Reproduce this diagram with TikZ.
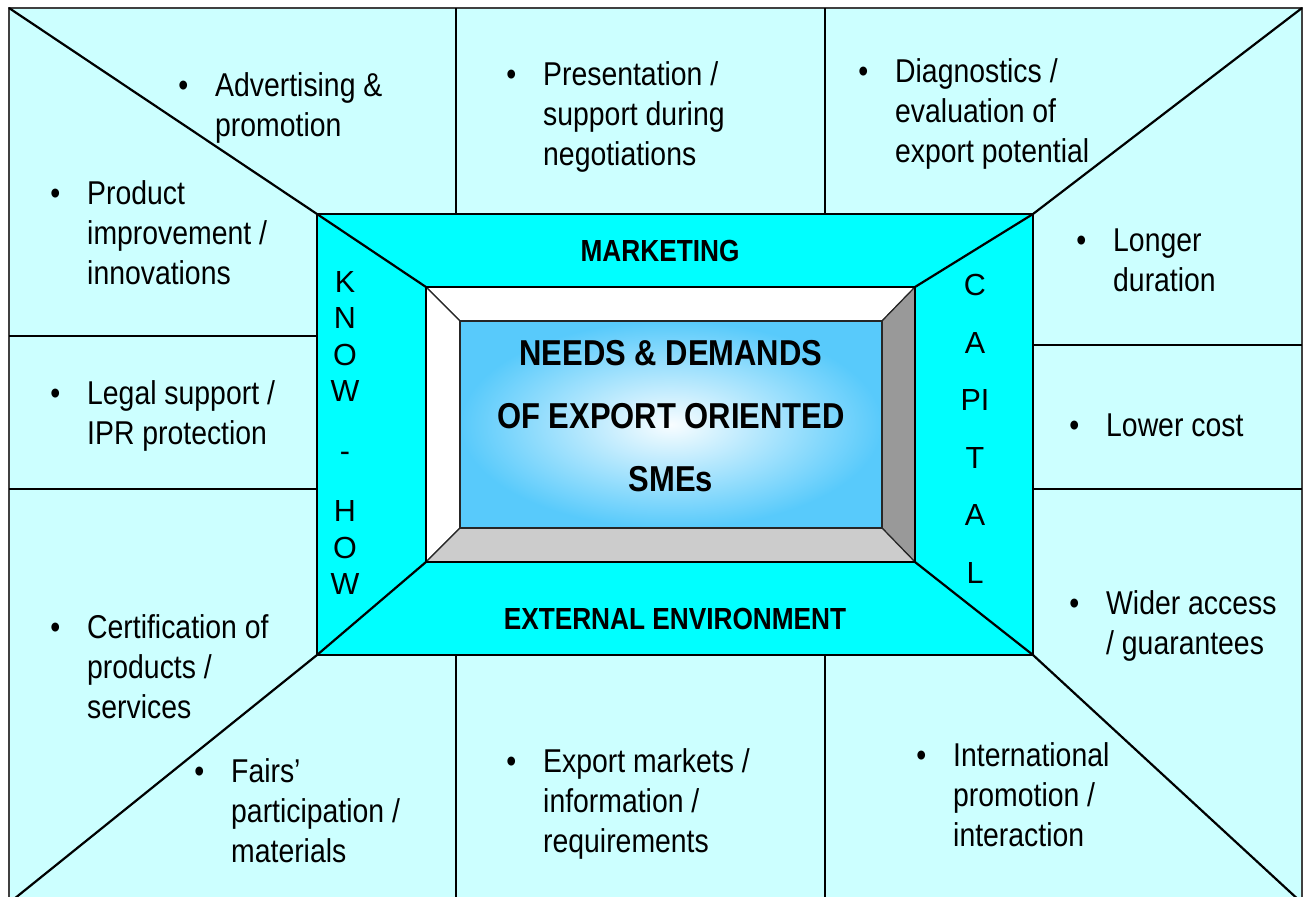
\documentclass[tikz,border=0pt]{standalone}
\usepackage{fontspec}
\setmainfont{Liberation Sans}[FakeStretch=0.86]
\newfontfamily\wideface{Liberation Sans}
\definecolor{paleCyan}{HTML}{CCFFFF}
\definecolor{midCyan}{HTML}{00FFFF}
\definecolor{bevelDark}{HTML}{999999}
\definecolor{bevelLight}{HTML}{CCCCCC}
\definecolor{coreEdge}{HTML}{58CAFB}
\definecolor{coreMid}{HTML}{F8FDFF}
\newcommand{\bodyfont}{\fontsize{33}{40}\selectfont}
\newcommand{\headfont}{\fontsize{30.5}{36}\selectfont\bfseries}
\newcommand{\titlefont}{\fontsize{36}{63}\selectfont\bfseries}
\newcommand{\bdot}{\llap{\textbullet\hspace{27pt}}}

\begin{document}
\begin{tikzpicture}[x=1pt, y=-1pt,
  frame/.style={draw=black, line width=2.2pt},
  bevel/.style={draw=black!85, line width=1.2pt},
  item/.style={anchor=base west, align=left, inner sep=0pt, font=\bodyfont},
  headtxt/.style={inner sep=0pt, font=\headfont},
  letters/.style={anchor=north, align=center, inner sep=0pt}]

\useasboundingbox (0,0) rectangle (1307,897);
\clip (0,0) rectangle (1307,897);

% CORNERS %%%%%%%%%%%%%%%%%%%%%%%%%%%%%%%%%%%%%%%%%%%%%%%%%%%%%%%%%%%%%%%%%

\coordinate (O1) at (9,8);
\coordinate (O2) at (1302,8);
\coordinate (O3) at (1302,903);
\coordinate (O4) at (9,903);

\coordinate (M1) at (317,214);
\coordinate (M2) at (1033,214);
\coordinate (M3) at (1033,655);
\coordinate (M4) at (317,655);

\coordinate (F1) at (426,287);
\coordinate (F2) at (915,287);
\coordinate (F3) at (915,562);
\coordinate (F4) at (426,562);

\coordinate (C1) at (460,321);
\coordinate (C2) at (882,321);
\coordinate (C3) at (882,528);
\coordinate (C4) at (460,528);

% OUTER FIELD %%%%%%%%%%%%%%%%%%%%%%%%%%%%%%%%%%%%%%%%%%%%%%%%%%%%%%%%%%%%%

\filldraw[fill=paleCyan, draw=black!75, line width=2.8pt] (O1) rectangle (O3);

\draw[frame] (O1) -- (M1);
\draw[frame] (O2) -- (M2);
\draw[frame] (O3) -- (M3);
\draw[frame] (O4) -- (M4);

\draw[frame] (456,8) -- (456,214);
\draw[frame] (825,8) -- (825,214);
\draw[frame] (456,655) -- (456,903);
\draw[frame] (825,655) -- (825,903);
\draw[frame] (9,336) -- (317,336);
\draw[frame] (9,489) -- (317,489);
\draw[frame] (1033,345) -- (1302,345);
\draw[frame] (1033,489) -- (1302,489);

% MIDDLE FRAME %%%%%%%%%%%%%%%%%%%%%%%%%%%%%%%%%%%%%%%%%%%%%%%%%%%%%%%%%%%%

\filldraw[fill=midCyan, frame] (M1) rectangle (M3);

\draw[frame] (M1) -- (F1);
\draw[frame] (M2) -- (F2);
\draw[frame] (M3) -- (F3);
\draw[frame] (M4) -- (F4);

% BEVEL AND CORE %%%%%%%%%%%%%%%%%%%%%%%%%%%%%%%%%%%%%%%%%%%%%%%%%%%%%%%%%%

\filldraw[fill=white, bevel] (F1) -- (F2) -- (C2) -- (C1) -- cycle;
\filldraw[fill=white, bevel] (F1) -- (C1) -- (C4) -- (F4) -- cycle;
\filldraw[fill=bevelDark, bevel] (F2) -- (F3) -- (C3) -- (C2) -- cycle;
\filldraw[fill=bevelLight, bevel] (F4) -- (C4) -- (C3) -- (F3) -- cycle;
\draw[frame] (F1) rectangle (F3);

\shade[inner color=coreMid, outer color=coreEdge] (C1) rectangle (C3);
\draw[bevel] (C1) rectangle (C3);

% TEXTS %%%%%%%%%%%%%%%%%%%%%%%%%%%%%%%%%%%%%%%%%%%%%%%%%%%%%%%%%%%%%%%%%%%

\node[align=center, inner sep=0pt, font=\titlefont] (title) at (671,416)
  {NEEDS \& DEMANDS\\OF EXPORT ORIENTED\\SMEs};

\node[headtxt] (mkt) at (660,251) {MARKETING};
\node[headtxt] (ext) at (675,619) {EXTERNAL ENVIRONMENT};

\node[letters, font=\wideface\fontsize{30.5}{36.5}\selectfont] (know) at (345,271)
  {K\\N\\O\\W\\[23.5pt]-\\[23.5pt]H\\O\\W};
\node[letters, font=\wideface\fontsize{30.5}{57.6}\selectfont] (cap) at (975,274)
  {C\\A\\PI\\T\\A\\L};

% base of a node = baseline of its last line
\node[item] (adv) at (215,136) {\bdot Advertising \&\\promotion};
\node[item] (prod) at (87,284) {\bdot Product\\improvement /\\innovations};
\node[item] (legal) at (87,444) {\bdot Legal support /\\IPR protection};
\node[item] (cert) at (87,718) {\bdot Certification of\\products /\\services};
\node[item] (fair) at (231,862) {\bdot Fairs’\\participation /\\materials};

\node[item] (pres) at (543,165) {\bdot Presentation /\\support during\\negotiations};
\node[item] (expm) at (543,852) {\bdot Export markets /\\information /\\requirements};

\node[item] (diag) at (895,162) {\bdot Diagnostics /\\evaluation of\\export potential};
\node[item] (long) at (1113,291) {\bdot Longer\\duration};
\node[item] (low) at (1106,436) {\bdot Lower cost};
\node[item] (wide) at (1106,654) {\bdot Wider access\\/ guarantees};
\node[item] (intl) at (953,846) {\bdot International\\promotion /\\interaction};

\end{tikzpicture}
\end{document}
